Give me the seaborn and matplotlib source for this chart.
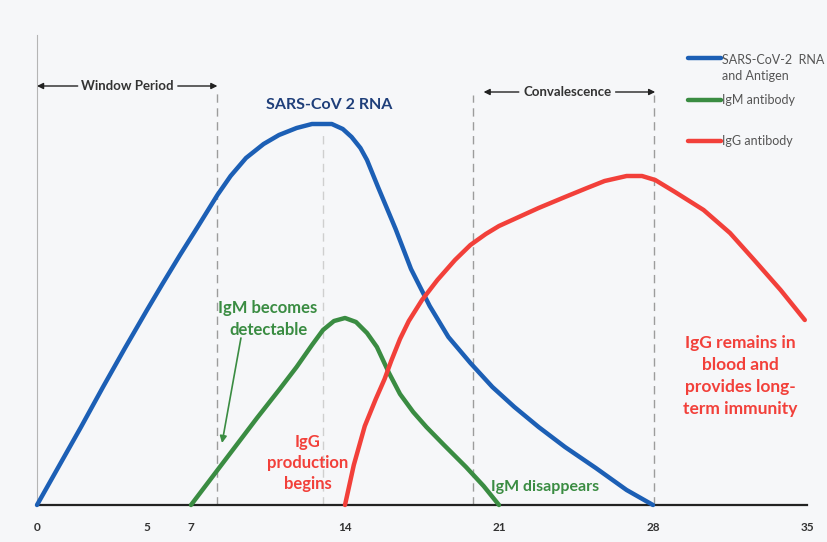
import numpy as np
import pandas as pd
import matplotlib
matplotlib.use('Agg')
import matplotlib.pyplot as plt
import seaborn as sns

# values (x = days, y = relative level)
rna_days = [0, 1, 2, 3, 4, 5, 5.7, 6.5, 7.3, 8.2, 8.8, 9.5, 10.3, 11, 11.8, 12.5, 13.4, 13.9, 14.3,
            14.7, 15.0, 15.5, 16.3, 17, 17.85, 18.7, 19.7, 20.7, 21.7, 22.8, 24, 25.4, 26.8, 28]
rna_level = [0, 39, 78, 118, 157, 195, 221, 250, 278, 310, 329, 347, 361, 370, 377, 381, 381, 376, 368,
             357, 345, 318, 276, 236, 199, 168, 142, 118, 98, 78, 58, 37, 15, 0]

igm_days = [7, 8, 9, 10, 11, 11.8, 12.5, 13.0, 13.5, 14.0, 14.5, 15.0, 15.45, 16.0, 16.5, 17.1,
            17.7, 18.5, 19.5, 20.3, 21]
igm_level = [0, 29, 58, 87, 115, 138, 160, 175, 184, 187, 183, 172, 158, 132, 111, 93,
             78, 60, 38, 19, 0]

igg_days = [14, 14.4, 14.9, 15.4, 15.8, 16.1, 16.5, 16.9, 17.5, 18.2, 19.0, 19.7, 20.4, 21, 22, 22.8,
            24, 25, 25.8, 26.8, 27.5, 28.1, 29, 30.3, 31.5, 32.6, 33.8, 34.9]
igg_level = [0, 40, 79, 106, 126, 144, 166, 184, 205, 225, 245, 260, 271, 279, 289, 297,
             308, 317, 324, 329, 329, 325, 313, 295, 272, 245, 215, 185]

tick_days = [0, 5, 7, 14, 21, 28, 35]
phase_lines = [8.2, 19.8, 28.05]

blue = '#1c5fb5'
green = '#3a8c42'
red = '#f2403a'

sns.set_style('white')
plt.rcParams['font.family'] = ['Lato', 'DejaVu Sans']

fig = plt.figure(figsize=(8.27, 5.42), dpi=100)
fig.patch.set_facecolor('#f6f7f9')
ax = fig.add_axes([0, 0, 1, 1])
ax.set_facecolor('#f6f7f9')
ax.set_xlim(-37 / 22, 790 / 22)
ax.set_ylim(-37, 505)

# phase boundaries
ax.vlines(phase_lines, 0, [412, 410, 410], colors='#9c9c9c', linestyles=(0, (6, 4)), lw=1)
ax.vlines(13.0, 0, 373, colors='#cfcfcf', linestyles=(0, (6, 4)), lw=1)

curves = pd.concat([
    pd.DataFrame({'day': rna_days, 'level': rna_level, 'series': 'rna'}),
    pd.DataFrame({'day': igm_days, 'level': igm_level, 'series': 'igm'}),
    pd.DataFrame({'day': igg_days, 'level': igg_level, 'series': 'igg'}),
])
sns.lineplot(data=curves, x='day', y='level', hue='series', estimator=None, sort=False,
             palette={'rna': blue, 'igm': green, 'igg': red}, lw=3.2, legend=False,
             ax=ax, zorder=3, solid_joinstyle='round', solid_capstyle='round')

# axes
for s in ['top', 'right']:
    ax.spines[s].set_visible(False)
ax.spines['bottom'].set_position(('data', 0))
ax.spines['bottom'].set_bounds(0, 35)
ax.spines['bottom'].set_color('#222222')
ax.spines['bottom'].set_linewidth(1.6)
ax.spines['left'].set_position(('data', 0))
ax.spines['left'].set_bounds(0, 470)
ax.spines['left'].set_color('#b5b5b5')
ax.spines['left'].set_linewidth(0.8)
ax.set_xticks(tick_days)
ax.set_xticklabels([str(d) for d in tick_days], fontsize=8.5, fontweight='bold', color='#333333')
ax.tick_params(axis='x', direction='inout', length=7, width=1.3, color='#222222', pad=9)
ax.set_yticks([93, 187, 280, 373, 470])
ax.set_yticklabels([])
ax.tick_params(axis='y', direction='in', length=3, width=0.8, color='#b5b5b5')
ax.set_xlabel('')
ax.set_ylabel('')

# period arrows
arr = dict(arrowstyle='-|>', color='#222222', lw=1, mutation_scale=9, shrinkA=0, shrinkB=0)
ax.text(4.1, 419, 'Window Period', ha='center', va='center', fontsize=9.5, fontweight='bold', color='#333333')
ax.annotate('', xy=(0, 419), xytext=(1.85, 419), arrowprops=arr)
ax.annotate('', xy=(8.2, 419), xytext=(6.4, 419), arrowprops=arr)
ax.text(24.1, 413, 'Convalescence', ha='center', va='center', fontsize=9.5, fontweight='bold', color='#333333')
ax.annotate('', xy=(20.3, 413), xytext=(21.9, 413), arrowprops=arr)
ax.annotate('', xy=(28.1, 413), xytext=(26.3, 413), arrowprops=arr)

# legend drawn by hand
leg = [(blue, 447, 'SARS-CoV-2  RNA\nand Antigen'), (green, 405, 'IgM antibody'), (red, 364, 'IgG antibody')]
for c, yy, lab in leg:
    ax.plot([29.6, 31.1], [yy, yy], color=c, lw=3.2, solid_capstyle='round')
    ax.text(31.15, yy + 4 if '\n' in lab else yy, lab, ha='left', va='top' if '\n' in lab else 'center',
            fontsize=9, color='#555555', linespacing=1.45)

# annotations
ax.text(13.3, 400, 'SARS-CoV 2 RNA', ha='center', va='center', fontsize=11.5,
        fontweight='bold', color='#1f3f7a')
ax.text(10.5, 186, 'IgM becomes\ndetectable', ha='center', va='center', fontsize=12,
        fontweight='bold', color=green, linespacing=1.45)
ax.annotate('', xy=(8.41, 62), xytext=(9.27, 167),
            arrowprops=dict(arrowstyle='-|>', color=green, lw=1.2, mutation_scale=10, shrinkA=0, shrinkB=0))
ax.text(12.3, 42, 'IgG\nproduction\nbegins', ha='center', va='center', fontsize=12,
        fontweight='bold', color=red, linespacing=1.35)
ax.text(23.1, 18, 'IgM disappears', ha='center', va='center', fontsize=11.5,
        fontweight='bold', color=green)
ax.text(31.95, 129, 'IgG remains in\nblood and\nprovides long-\nterm immunity', ha='center',
        va='center', fontsize=12.5, fontweight='bold', color=red, linespacing=1.45)

fig.savefig('out.png', dpi=100, facecolor=fig.get_facecolor())
